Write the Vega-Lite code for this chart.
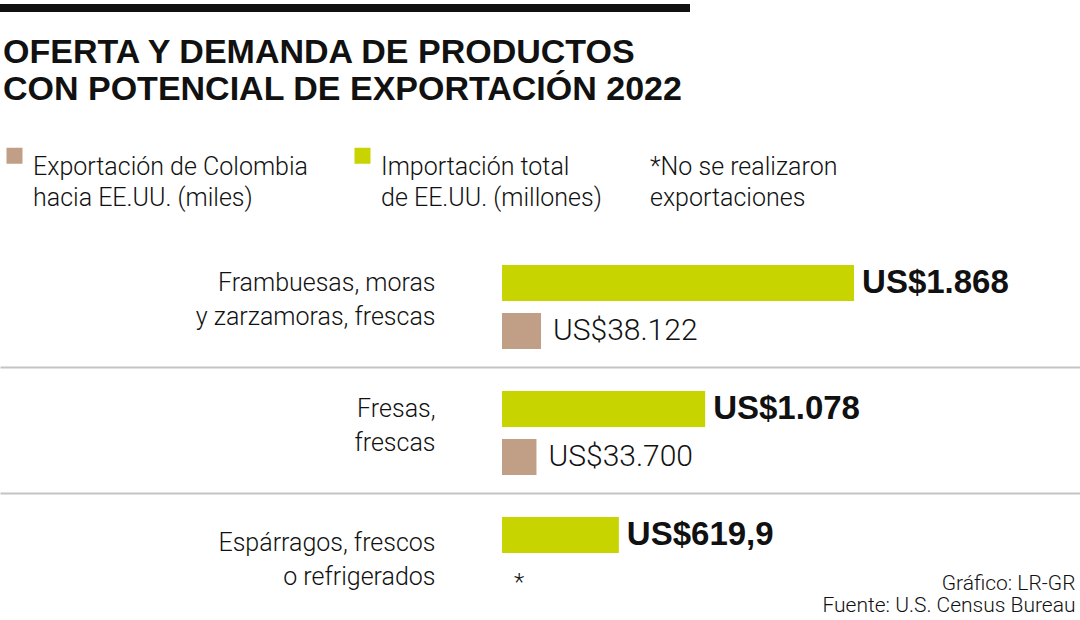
{
  "$schema": "https://vega.github.io/schema/vega-lite/v6.json",
  "background": "white",
  "padding": {"left": 0, "top": 4, "right": 0, "bottom": 0},
  "spacing": 24,
  "align": "none",
  "resolve": {"legend": {"color": "independent"}},
  "config": {"view": {"stroke": null}, "font": "Roboto"},
  "datasets": {
    "productos": [
      {"producto": "Frambuesas, moras|y zarzamoras, frescas", "serie": "Importación", "valor": 1868, "etiqueta": "US$1.868"},
      {"producto": "Frambuesas, moras|y zarzamoras, frescas", "serie": "Exportación", "valor": 38122, "etiqueta": "US$38.122"},
      {"producto": "Fresas,|frescas", "serie": "Importación", "valor": 1078, "etiqueta": "US$1.078"},
      {"producto": "Fresas,|frescas", "serie": "Exportación", "valor": 33700, "etiqueta": "US$33.700"},
      {"producto": "Espárragos, frescos|o refrigerados", "serie": "Importación", "valor": 619.9, "etiqueta": "US$619,9"},
      {"producto": "Espárragos, frescos|o refrigerados", "serie": "Exportación", "valor": 0, "etiqueta": "*"}
    ]
  },
  "vconcat": [
    {
      "width": 690,
      "height": 8,
      "view": {"fill": "#111111", "stroke": null},
      "data": {"values": [{}]},
      "mark": {"type": "point", "opacity": 0}
    },
    {
      "width": 1080,
      "height": 378,
      "title": {
        "text": ["OFERTA Y DEMANDA DE PRODUCTOS", "CON POTENCIAL DE EXPORTACIÓN 2022"],
        "anchor": "start",
        "frame": "bounds",
        "font": "Liberation Sans",
        "fontWeight": "bold",
        "fontSize": 34,
        "lineHeight": 37,
        "color": "#111111",
        "offset": 36,
        "dx": 3
      },
      "data": {"name": "productos"},
      "encoding": {
        "y": {
          "field": "producto",
          "type": "nominal",
          "scale": {
            "domain": ["Frambuesas, moras|y zarzamoras, frescas", "Fresas,|frescas", "Espárragos, frescos|o refrigerados"],
            "paddingInner": 0,
            "paddingOuter": 0
          },
          "axis": {
            "title": null,
            "domain": false,
            "ticks": false,
            "offset": -502,
            "tickBand": "extent",
            "grid": true,
            "gridColor": "#c4c4c4",
            "gridWidth": 2,
            "gridOpacity": {"condition": {"test": "datum.extra || (datum.value !== 'Frambuesas, moras|y zarzamoras, frescas' && datum.value !== 'Fresas,|frescas')", "value": 0}, "value": 1},
            "labelExpr": "split(datum.label, '|')",
            "labelFont": "Roboto",
            "labelFontWeight": 300,
            "labelFontSize": 25,
            "labelColor": "#111111",
            "labelAlign": "right",
            "labelBaseline": "middle",
            "labelLineHeight": 34,
            "labelOffset": {"condition": {"test": "datum.value === 'Espárragos, frescos|o refrigerados'", "value": -14}, "value": -22},
            "labelPadding": 67,
            "labelLimit": 400,
            "minExtent": 0
          }
        },
        "yOffset": {
          "field": "serie",
          "type": "nominal",
          "scale": {"domain": ["Importación", "Exportación"], "paddingInner": 0.25, "paddingOuter": 0.4375, "align": 0.571}
        }
      },
      "layer": [
        {
          "transform": [{"filter": "datum.serie === 'Importación'"}],
          "encoding": {
            "x": {
              "field": "valor",
              "type": "quantitative",
              "scale": {"domain": [-2664, 3067], "nice": false, "zero": false},
              "axis": {
                "orient": "bottom",
                "domain": false,
                "ticks": false,
                "labels": false,
                "grid": false,
                "title": ["Gráfico: LR-GR", "Fuente: U.S. Census Bureau"],
                "titleFont": "Roboto",
                "titleFontWeight": 300,
                "titleFontSize": 21,
                "titleLineHeight": 22,
                "titleColor": "#111111",
                "titleAlign": "right",
                "titleAnchor": "end",
                "titleBaseline": "alphabetic",
                "titleX": 1075,
                "titleY": -30
              }
            }
          },
          "layer": [
            {
              "mark": {"type": "bar"},
              "encoding": {
                "color": {
                  "field": "serie",
                  "type": "nominal",
                  "scale": {"domain": ["Exportación", "Importación"], "range": ["#c19e86", "#c8d400"]},
                  "legend": {
                    "orient": "none",
                    "legendX": 2,
                    "legendY": -98,
                    "direction": "horizontal",
                    "columns": 2,
                    "columnPadding": 42,
                    "symbolType": "square",
                    "symbolSize": 256,
                    "symbolStrokeWidth": 0,
                    "labelExpr": "datum.label === 'Exportación' ? ['Exportación de Colombia', 'hacia EE.UU. (miles)'] : ['Importación total', 'de EE.UU. (millones)']",
                    "labelFont": "Roboto",
                    "labelFontWeight": 300,
                    "labelFontSize": 25,
                    "labelColor": "#111111",
                    "labelOffset": 6,
                    "labelLimit": 400,
                    "labelBaseline": "top",
                    "title": ["*No se realizaron", "exportaciones"],
                    "titleOrient": "right",
                    "titlePadding": 48,
                    "titleFont": "Roboto",
                    "titleFontSize": 25,
                    "titleFontWeight": 300,
                    "titleColor": "#111111",
                    "titleAnchor": "start",
                    "titleBaseline": "top",
                    "titleLineHeight": 31,
                    "titleLimit": 400,
                    "encode": {
                      "labels": {"update": {"lineHeight": {"value": 31}, "dy": {"value": -1}}},
                      "title": {"update": {"dy": {"value": 12}}}
                    }
                  }
                }
              }
            },
            {
              "mark": {"type": "text", "align": "left", "baseline": "middle", "dx": 8, "font": "Liberation Sans", "fontWeight": "bold", "fontSize": 33, "color": "#111111"},
              "encoding": {"text": {"field": "etiqueta"}}
            }
          ]
        },
        {
          "transform": [{"filter": "datum.serie === 'Exportación'"}],
          "encoding": {
            "x": {
              "field": "valor",
              "type": "quantitative",
              "scale": {"domain": [-490700, 565000], "nice": false, "zero": false},
              "axis": null
            }
          },
          "layer": [
            {
              "mark": {"type": "bar"},
              "encoding": {
                "color": {"field": "serie", "type": "nominal"}
              }
            },
            {
              "mark": {"type": "text", "align": "left", "baseline": "middle", "dx": 12, "font": "Roboto", "fontWeight": 300, "color": "#111111"},
              "encoding": {
                "text": {"field": "etiqueta"},
                "size": {"condition": {"test": "datum.valor === 0", "value": 24}, "value": 30}
              }
            }
          ]
        }
      ],
      "resolve": {"scale": {"x": "independent"}, "axis": {"x": "independent"}}
    }
  ]
}
